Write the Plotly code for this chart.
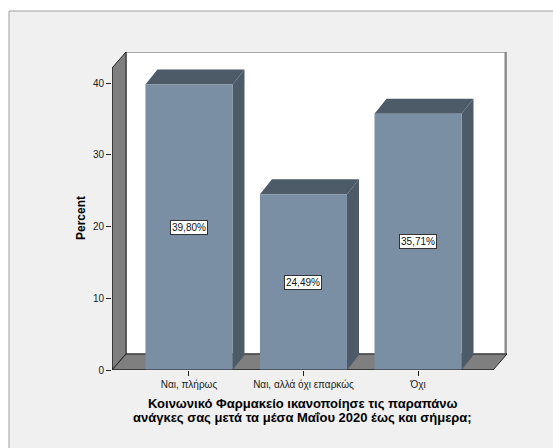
import plotly.graph_objects as go

# ---- data ----
categories = ["Ναι, πλήρως", "Ναι, αλλά όχι επαρκώς", "Όχι"]
percents = [39.80, 24.49, 35.71]
y_ticks = [0, 10, 20, 30, 40]
x_title_lines = ["Κοινωνικό Φαρμακείο ικανοποίησε τις παραπάνω",
                 "ανάγκες σας μετά τα μέσα Μαΐου 2020 έως και σήμερα;"]
y_title = "Percent"

# ---- geometry / style ----
W, H = 553, 448
L, R, T, B = 112, 46, 52, 78          # plot area margins (px)
x_range = [-0.672, 2.777]
y_range = [0, 44.32]
plot_w = W - L - R
plot_h = H - T - B
px_x = plot_w / (x_range[1] - x_range[0])   # px per x unit
px_y = plot_h / (y_range[1] - y_range[0])   # px per y unit

wall_dx, wall_dy = 14 / px_x, 16 / px_y     # depth of walls in data units
bar_dx, bar_dy = 12 / px_x, 15 / px_y       # depth of bars in data units
bar_w = 0.76

front_col = "#7A8FA3"
dark_col = "#4D5A68"
wall_col = "#7F7F7F"
edge = "#222222"
font_fam = "Liberation Sans, Arial"

x_left = x_range[0]
x_right_front = x_range[1] - wall_dx
y_top_front = y_range[1] - wall_dy

shapes = []
# outer frame (paper)
shapes.append(dict(type="rect", xref="paper", yref="paper",
                   x0=(9 - L) / plot_w, x1=1 + (R + 20) / plot_w,
                   y0=-(B + 20) / plot_h, y1=1 + (T - 11) / plot_h,
                   fillcolor="#F0F0F0", line=dict(color="#A0A0A0", width=1), layer="below"))


def path(pts):
    return "M " + " L ".join(f"{x},{y}" for x, y in pts) + " Z"


# back wall
shapes.append(dict(type="path", xref="x", yref="y", layer="below",
                   path=path([(x_left + wall_dx, wall_dy), (x_range[1], wall_dy),
                              (x_range[1], y_range[1]), (x_left + wall_dx, y_range[1])]),
                   fillcolor="white", line=dict(color="#555555", width=1)))
# right shadow line of back wall
shapes.append(dict(type="line", xref="x", yref="y", layer="below",
                   x0=x_range[1] - 1.5 / px_x, x1=x_range[1] - 1.5 / px_x,
                   y0=wall_dy, y1=y_range[1], line=dict(color="#888888", width=2)))
# left wall
shapes.append(dict(type="path", xref="x", yref="y", layer="below",
                   path=path([(x_left, 0), (x_left, y_top_front),
                              (x_left + wall_dx, y_range[1]), (x_left + wall_dx, wall_dy)]),
                   fillcolor=wall_col, line=dict(color=edge, width=1)))
# floor
shapes.append(dict(type="path", xref="x", yref="y", layer="below",
                   path=path([(x_left, 0), (x_right_front, 0),
                              (x_range[1], wall_dy), (x_left + wall_dx, wall_dy)]),
                   fillcolor=wall_col, line=dict(color=edge, width=1)))
# y axis line
shapes.append(dict(type="line", xref="x", yref="y", layer="below",
                   x0=x_left, x1=x_left, y0=0, y1=y_top_front,
                   line=dict(color=edge, width=1)))

# bar 3D faces + value labels
annotations = []
for i, v in enumerate(percents):
    x0, x1 = i - bar_w / 2, i + bar_w / 2
    shapes.append(dict(type="path", xref="x", yref="y", layer="below",
                       path=path([(x1, 0), (x1, v), (x1 + bar_dx, v + bar_dy), (x1 + bar_dx, bar_dy)]),
                       fillcolor=dark_col, line=dict(width=0)))
    shapes.append(dict(type="path", xref="x", yref="y", layer="below",
                       path=path([(x0, v), (x1, v), (x1 + bar_dx, v + bar_dy), (x0 + bar_dx, v + bar_dy)]),
                       fillcolor=dark_col, line=dict(width=0)))
    annotations.append(dict(x=i, y=v / 2, xref="x", yref="y",
                            text=f"{v:.2f}".replace(".", ",") + "%",
                            showarrow=False, bgcolor="white", bordercolor="#333333",
                            borderwidth=1, borderpad=1,
                            font=dict(family=font_fam, size=10, color="#111111")))

# front floor edge (on top of bars)
shapes.append(dict(type="line", xref="x", yref="y", layer="above",
                   x0=x_left, x1=x_right_front, y0=0, y1=0,
                   line=dict(color=edge, width=1)))

# x title (two lines, bold)
for k, line in enumerate(x_title_lines):
    annotations.append(dict(x=(x_left + x_right_front) / 2, y=0, xref="x", yref="paper",
                            yshift=-(33 + 14 * k), yanchor="middle",
                            text="<b>" + line + "</b>", showarrow=False,
                            font=dict(family=font_fam, size=13, color="black")))
# y title
annotations.append(dict(x=(81 - L) / plot_w, xref="paper", xanchor="center",
                        y=(370 - 218) / plot_h, yref="paper",
                        text="<b>" + y_title + "</b>", textangle=-90, showarrow=False,
                        font=dict(family=font_fam, size=12, color="black")))

fig = go.Figure(go.Bar(x=list(range(len(categories))), y=percents, width=bar_w,
                       marker=dict(color=front_col, line=dict(width=0)), hoverinfo="skip"))

fig.update_layout(
    width=W, height=H, margin=dict(l=L, r=R, t=T, b=B, pad=0),
    paper_bgcolor="white", plot_bgcolor="rgba(0,0,0,0)",
    showlegend=False, shapes=shapes, annotations=annotations,
    font=dict(family=font_fam, size=10, color="#222222"),
    xaxis=dict(range=x_range, tickvals=list(range(len(categories))), ticktext=categories,
               ticks="outside", ticklen=5, tickcolor="#222222", showgrid=False,
               showline=False, zeroline=False, tickfont=dict(size=10), automargin=False),
    yaxis=dict(range=y_range, tickvals=y_ticks, ticks="outside", ticklen=5,
               tickcolor="#222222", showgrid=False, showline=False, zeroline=False,
               tickfont=dict(size=10), automargin=False),
)

fig.write_html("out.html", config={"displayModeBar": False},
               post_script="document.body.style.margin='0';")
